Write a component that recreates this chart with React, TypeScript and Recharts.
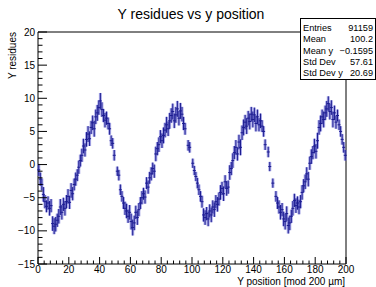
import { ErrorBar, ReferenceArea, Scatter, ScatterChart, XAxis, YAxis } from "recharts";

const FONT = '"Liberation Sans", Arial, Helvetica, sans-serif';

// Y residue per 1 µm bin (bin i covers [i, i+1)), null = empty bin
const residues: (number | null)[] = [
  -0.8, -2.2, -3.0, -4.5, -5.6, -6.3, -5.8, -6.6, -6.2, -8.9,
  -9.3, -9.0, -8.4, -7.8, -6.4, -7.2, -6.0, -6.6, -5.6, -4.8,
  -5.7, -3.9, -4.4, -3.0, -2.2, -1.6, -0.4, 0.6, 1.4, 2.8,
  2.2, 3.8, 4.6, 3.9, 5.6, 6.3, 5.4, 7.2, 7.8, 8.6,
  9.6, 8.3, 7.4, 6.7, 7.0, 6.2, 5.4, 3.6, 3.2, 1.4,
  null, -1.0, -1.6, -3.8, -4.8, -5.8, -6.6, -7.0, -7.8, -7.2,
  -8.6, -9.5, -8.8, -7.2, -8.0, -6.8, -5.8, -5.0, -4.4, -4.9,
  -2.8, -3.4, -2.0, -1.4, -0.6, -1.0, 1.6, 2.4, 3.0, 4.2,
  3.6, 4.4, 5.2, 6.0, 5.4, 6.6, 7.4, 8.0, 6.6, 7.5,
  8.4, 7.0, 8.1, 7.6, 6.2, 5.4, null, 2.9, 2.6, null,
  0.2, -0.9, -1.8, -2.8, -3.8, -4.8, -5.6, -7.6, -8.0, -7.4,
  -8.2, -7.0, -7.6, -6.4, -6.8, -5.6, -6.0, -5.2, -4.2, -3.6,
  -4.4, -2.6, -3.6, -3.4, -1.2, -0.6, 0.6, 1.8, 2.6, 1.6,
  3.4, 2.6, 4.8, 5.6, 6.4, 5.8, 7.0, 6.5, 7.6, 6.8,
  7.5, 6.2, 7.2, 6.0, 6.6, 5.8, 5.0, 3.0, null, 1.9,
  -0.3, null, -2.8, null, -4.8, -5.8, -6.4, -7.2, -6.8, -8.2,
  -8.6, -7.4, -9.2, -8.8, -7.8, -6.6, -5.4, -6.2, -5.8, -6.4,
  -5.6, -4.2, -3.2, -2.6, -1.4, -2.2, 0.2, 1.2, 1.8, 2.8,
  2.0, 3.6, 5.6, 6.2, 7.2, 6.8, 7.8, 8.4, 9.2, 8.0,
  8.6, 6.8, 7.8, 6.4, 7.4, 6.0, 5.0, 3.8, 2.6, 1.4,
];

// error on the mean for each bin
const errors: number[] = [
  0.9, 1.0, 0.9, 1.1, 1.0, 0.9, 1.0, 1.1, 1.0, 1.1, 1.2, 1.1, 1.0, 1.1, 1.2, 1.1, 1.0, 1.1, 1.0, 1.1,
  1.0, 1.1, 1.0, 0.9, 1.0, 0.9, 1.0, 0.9, 1.0, 1.1, 1.0, 1.1, 1.2, 1.1, 1.0, 1.1, 1.2, 1.1, 1.2, 1.1,
  1.2, 1.1, 1.0, 1.1, 1.0, 0.9, 0.9, 0.8, 0.8, 0.8, 0.8, 0.7, 0.8, 0.8, 0.8, 0.9, 1.0, 1.1, 1.0, 1.1,
  1.2, 1.2, 1.1, 1.0, 1.1, 1.0, 0.9, 1.0, 0.9, 1.0, 0.9, 1.0, 0.9, 1.0, 0.9, 1.0, 1.1, 1.0, 1.1, 1.0,
  1.1, 1.2, 1.1, 1.2, 1.1, 1.2, 1.1, 1.2, 1.1, 1.2, 1.2, 1.1, 1.2, 1.1, 1.0, 0.9, 0.8, 0.8, 0.8, 0.8,
  0.7, 0.7, 0.7, 0.8, 0.8, 0.8, 0.9, 1.0, 1.1, 1.0, 1.1, 1.0, 1.1, 1.0, 1.1, 1.0, 1.1, 1.0, 1.1, 1.0,
  1.1, 1.0, 1.1, 1.0, 1.1, 1.0, 1.1, 1.0, 1.1, 1.0, 1.1, 1.2, 1.1, 1.2, 1.1, 1.2, 1.1, 1.2, 1.1, 1.2,
  1.1, 1.2, 1.1, 1.0, 1.1, 0.9, 0.8, 0.8, 0.8, 0.8, 0.7, 0.7, 0.7, 0.8, 0.8, 0.9, 1.0, 1.1, 1.0, 1.1,
  1.2, 1.1, 1.2, 1.1, 1.0, 1.1, 1.0, 1.1, 1.0, 1.1, 1.0, 1.1, 1.0, 1.1, 1.0, 1.1, 1.0, 1.1, 1.0, 1.1,
  1.1, 1.2, 1.1, 1.2, 1.1, 1.2, 1.1, 1.2, 1.1, 1.2, 1.1, 1.2, 1.1, 1.0, 0.9, 0.8, 0.8, 0.8, 0.8, 0.8,
];

const xMajor = [0, 20, 40, 60, 80, 100, 120, 140, 160, 180, 200];
const yMajor = [-15, -10, -5, 0, 5, 10, 15, 20];

const statsRows: [string, string][] = [
  ["Entries", "91159"],
  ["Mean", "100.2"],
  ["Mean y", "\u22120.1595"],
  ["Std Dev", "57.61"],
  ["Std Dev y", "20.69"],
];

// minor ticks between the labelled ones
function subdivide(major: number[], n: number): number[] {
  const out: number[] = [];
  for (let i = 0; i < major.length - 1; i++) {
    const step = (major[i + 1] - major[i]) / n;
    for (let k = 0; k < n; k++) out.push(major[i] + k * step);
  }
  out.push(major[major.length - 1]);
  return out;
}

const xTicks = subdivide(xMajor, 5);
const yTicks = subdivide(yMajor, 5);

const table = residues
  .map((v, i) => (v === null ? null : { pos: i + 0.5, res: v, err: errors[i] }))
  .filter((d) => d !== null);

const PLOT_LEFT = 38;
const PLOT_BOTTOM = 264;
const INK = "#1c1c90";

const fmt = (v: number) => (v < 0 ? "\u2212" + Math.abs(v) : String(v));

function XTick({ x, payload }: any) {
  const major = xMajor.includes(payload.value);
  return (
    <g>
      <line x1={x} x2={x} y1={PLOT_BOTTOM} y2={PLOT_BOTTOM - (major ? 7 : 3.5)} stroke="#000" />
      {major && (
        <text x={x} y={273} textAnchor="middle" fontSize={10} fontFamily={FONT} fill="#000">
          {fmt(payload.value)}
        </text>
      )}
    </g>
  );
}

function YTick({ y, payload }: any) {
  const major = yMajor.includes(payload.value);
  return (
    <g>
      <line x1={PLOT_LEFT} x2={PLOT_LEFT + (major ? 9 : 4.5)} y1={y} y2={y} stroke="#000" />
      {major && (
        <text x={35} y={y + 3.5} textAnchor="end" fontSize={10} fontFamily={FONT} fill="#000">
          {fmt(payload.value)}
        </text>
      )}
    </g>
  );
}

function Cross(props: any) {
  const { cx, cy } = props;
  return <line x1={cx - 1.5} x2={cx + 1.5} y1={cy} y2={cy} stroke={INK} strokeWidth={1} />;
}

export default function App() {
  return (
    <div style={{ position: "absolute", left: 0, top: 0, width: 376, height: 287, background: "#fff" }}>
      <ScatterChart width={376} height={287} margin={{ top: 32, right: 30, bottom: 3, left: 8 }}>
        <XAxis
          type="number"
          dataKey="pos"
          domain={[0, 200]}
          ticks={xTicks}
          interval={0}
          height={20}
          axisLine={false}
          tickLine={false}
          tickSize={0}
          tickMargin={0}
          tick={<XTick />}
        />
        <YAxis
          type="number"
          dataKey="res"
          domain={[-15, 20]}
          ticks={yTicks}
          interval={0}
          width={30}
          axisLine={false}
          tickLine={false}
          tickSize={0}
          tickMargin={0}
          tick={<YTick />}
        />
        <ReferenceArea x1={0} x2={200} y1={-15} y2={20} fill="none" stroke="#000" strokeWidth={1} />
        <Scatter data={table} shape={<Cross />} isAnimationActive={false}>
          <ErrorBar dataKey="err" direction="y" width={0} stroke="#8585de" strokeOpacity={0.7} strokeWidth={3} isAnimationActive={false} />
          <ErrorBar dataKey="err" direction="y" width={0} stroke={INK} strokeWidth={1} isAnimationActive={false} />
        </Scatter>
      </ScatterChart>
      <svg
        width={376}
        height={287}
        style={{ position: "absolute", left: 0, top: 0, pointerEvents: "none" }}
        fontFamily={FONT}
      >
        <text x={191} y={19} textAnchor="middle" fontSize={14} fill="#000">
          Y residues vs y position
        </text>
        <text x={16} y={32} transform="rotate(-90 16 32)" textAnchor="end" fontSize={10} fill="#000">
          Y residues
        </text>
        <text x={345} y={285} textAnchor="end" fontSize={10} fill="#000">
          Y position [mod 200 µm]
        </text>
        <rect x={300.5} y={18.5} width={75} height={61} fill="#fff" stroke="#000" />
        {statsRows.map(([label, value], i) => (
          <g key={label}>
            <text x={303} y={31 + i * 11.3} fontSize={9.2} fill="#000">
              {label}
            </text>
            <text x={373} y={31 + i * 11.3} fontSize={9.2} textAnchor="end" fill="#000">
              {value}
            </text>
          </g>
        ))}
      </svg>
    </div>
  );
}
